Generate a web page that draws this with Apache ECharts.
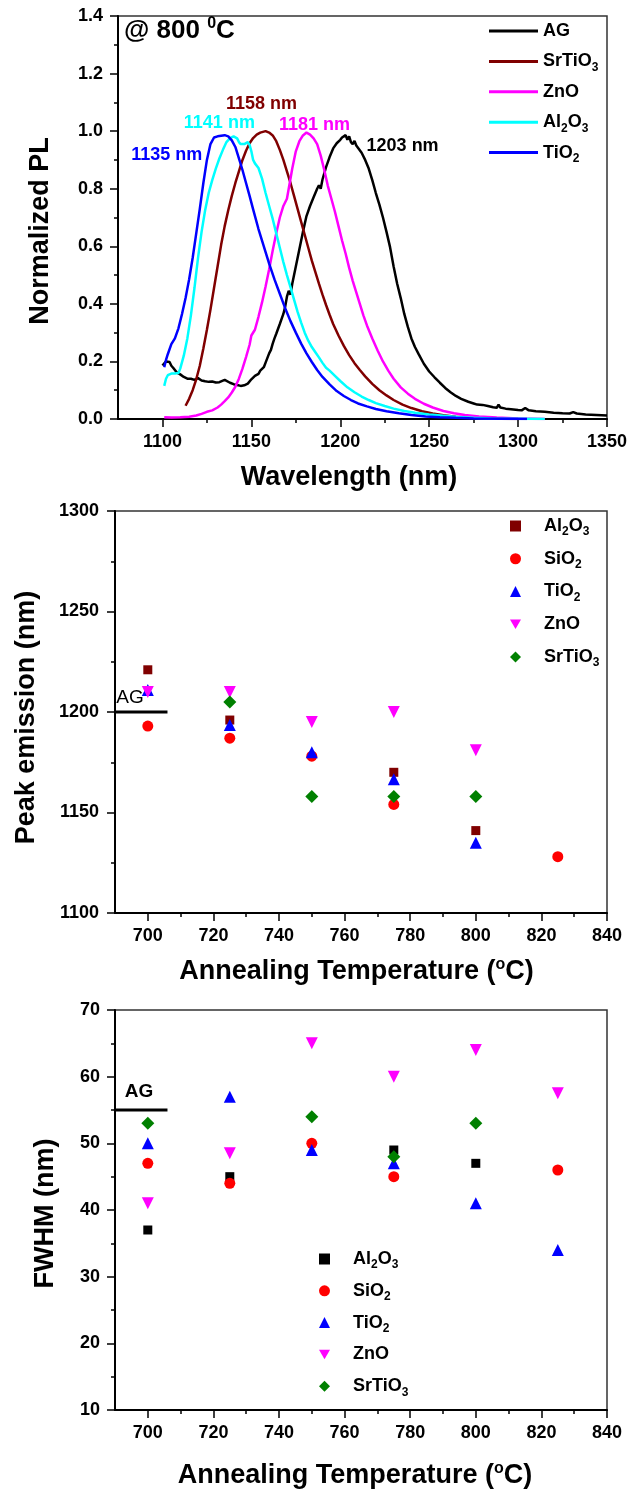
<!DOCTYPE html>
<html>
<head>
<meta charset="utf-8">
<script src="https://cdn.jsdelivr.net/npm/echarts@6/dist/echarts.min.js"></script>
<style>
  html, body { margin: 0; padding: 0; background: #fff; }
  #chart { width: 632px; height: 1492px; }
</style>
</head>
<body>
<div id="chart"></div>
<script>
// ---------- Panel 1: normalized PL spectra after annealing at 800 °C ----------
const plNames = ['AG', 'SrTiO3', 'ZnO', 'Al2O3', 'TiO2'];
const plPeakNm = [1203, 1158, 1181, 1141, 1135];
const wavelengthTicks = [1100, 1150, 1200, 1250, 1300, 1350];
const wavelengthMinorTicks = [1125, 1175, 1225, 1275, 1325];

const plAG = [[1100,0.186],[1101,0.19],[1102,0.2],[1103,0.205],[1104,0.198],[1105,0.185],[1106,0.178],[1107,0.17],[1108,0.162],[1110,0.155],[1112,0.146],[1114,0.14],[1115,0.143],[1116,0.14],[1118,0.136],[1119,0.14],[1120,0.142],[1122,0.134],[1124,0.131],[1126,0.129],[1128,0.13],[1130,0.127],[1132,0.128],[1133,0.134],[1135,0.136],[1136,0.132],[1138,0.126],[1140,0.121],[1142,0.118],[1144,0.115],[1146,0.117],[1148,0.123],[1150,0.138],[1152,0.15],[1154,0.157],[1155,0.168],[1157,0.18],[1158,0.196],[1160,0.228],[1161,0.24],[1162,0.262],[1163,0.28],[1164,0.296],[1166,0.33],[1168,0.365],[1169,0.39],[1170,0.425],[1171,0.445],[1172,0.432],[1173,0.47],[1175,0.53],[1177,0.59],[1179,0.65],[1181,0.705],[1183,0.74],[1185,0.77],[1187,0.8],[1188,0.812],[1189,0.8],[1190,0.832],[1192,0.875],[1194,0.91],[1196,0.94],[1198,0.958],[1200,0.97],[1201,0.978],[1202,0.972],[1203,0.986],[1204,0.97],[1205,0.982],[1206,0.962],[1207,0.955],[1208,0.966],[1209,0.95],[1210,0.945],[1212,0.925],[1214,0.9],[1216,0.87],[1218,0.83],[1220,0.785],[1222,0.745],[1224,0.7],[1226,0.65],[1228,0.597],[1230,0.53],[1232,0.47],[1234,0.42],[1236,0.365],[1238,0.32],[1240,0.28],[1242,0.25],[1244,0.226],[1247,0.192],[1250,0.165],[1253,0.145],[1256,0.126],[1259,0.108],[1262,0.093],[1265,0.08],[1268,0.07],[1272,0.06],[1275,0.054],[1277,0.05],[1278,0.056],[1280,0.049],[1283,0.045],[1286,0.041],[1288,0.039],[1289,0.05],[1290,0.04],[1293,0.036],[1296,0.034],[1300,0.031],[1302,0.03],[1304,0.038],[1306,0.03],[1310,0.027],[1315,0.025],[1320,0.022],[1325,0.02],[1329,0.019],[1331,0.024],[1333,0.019],[1338,0.016],[1344,0.014],[1350,0.012]];

const plSrTiO3 = [[1113,0.046],[1115,0.07],[1117,0.1],[1119,0.138],[1121,0.185],[1123,0.245],[1125,0.31],[1127,0.38],[1129,0.455],[1131,0.53],[1133,0.605],[1135,0.67],[1137,0.725],[1139,0.775],[1141,0.82],[1143,0.86],[1145,0.9],[1147,0.932],[1149,0.958],[1151,0.976],[1153,0.988],[1155,0.995],[1158,1.0],[1160,0.995],[1162,0.985],[1164,0.965],[1166,0.935],[1168,0.9],[1170,0.86],[1172,0.82],[1174,0.775],[1176,0.73],[1178,0.685],[1180,0.64],[1182,0.595],[1184,0.55],[1186,0.51],[1188,0.47],[1190,0.432],[1192,0.396],[1194,0.362],[1196,0.33],[1199,0.29],[1202,0.254],[1205,0.222],[1208,0.194],[1211,0.17],[1214,0.148],[1218,0.122],[1222,0.1],[1226,0.082],[1230,0.066],[1235,0.05],[1240,0.038],[1246,0.027],[1252,0.019],[1258,0.013],[1265,0.008],[1272,0.005],[1280,0.003],[1290,0.001],[1300,0]];

const plZnO = [[1101,0.006],[1105,0.005],[1110,0.006],[1115,0.008],[1119,0.012],[1122,0.018],[1125,0.025],[1128,0.03],[1131,0.04],[1133,0.05],[1135,0.062],[1137,0.075],[1139,0.092],[1141,0.112],[1143,0.14],[1145,0.175],[1147,0.215],[1149,0.258],[1150,0.29],[1152,0.31],[1154,0.355],[1156,0.405],[1158,0.46],[1160,0.52],[1162,0.585],[1164,0.645],[1166,0.7],[1168,0.74],[1170,0.765],[1171,0.8],[1173,0.87],[1175,0.93],[1177,0.965],[1179,0.985],[1181,0.995],[1183,0.988],[1185,0.975],[1187,0.955],[1189,0.915],[1191,0.865],[1193,0.81],[1195,0.765],[1197,0.72],[1199,0.67],[1201,0.62],[1203,0.575],[1205,0.525],[1207,0.48],[1209,0.44],[1211,0.4],[1213,0.36],[1215,0.325],[1218,0.28],[1221,0.238],[1224,0.2],[1227,0.168],[1230,0.14],[1234,0.11],[1238,0.088],[1242,0.07],[1247,0.053],[1252,0.04],[1258,0.028],[1264,0.02],[1270,0.014],[1278,0.009],[1288,0.005],[1300,0.002],[1315,0]];

const plAl2O3 = [[1101,0.115],[1102,0.14],[1103,0.152],[1105,0.158],[1107,0.158],[1109,0.16],[1110,0.175],[1112,0.22],[1114,0.28],[1116,0.36],[1118,0.455],[1120,0.56],[1122,0.65],[1124,0.725],[1126,0.785],[1128,0.83],[1130,0.87],[1132,0.905],[1134,0.935],[1136,0.962],[1138,0.976],[1140,0.982],[1141,0.984],[1142,0.975],[1143,0.962],[1144,0.955],[1146,0.955],[1148,0.962],[1149,0.952],[1150,0.93],[1151,0.9],[1152,0.888],[1154,0.872],[1156,0.835],[1158,0.785],[1160,0.74],[1162,0.695],[1164,0.645],[1166,0.595],[1168,0.545],[1170,0.5],[1172,0.458],[1174,0.415],[1176,0.372],[1178,0.335],[1180,0.3],[1182,0.272],[1184,0.25],[1186,0.232],[1188,0.214],[1190,0.195],[1192,0.178],[1194,0.168],[1197,0.15],[1200,0.132],[1204,0.11],[1208,0.093],[1212,0.078],[1216,0.066],[1220,0.055],[1225,0.045],[1230,0.036],[1236,0.028],[1242,0.022],[1250,0.016],[1258,0.011],[1266,0.007],[1275,0.004],[1285,0.002],[1300,0.001],[1315,0]];

const plTiO2 = [[1101,0.18],[1102,0.205],[1103,0.225],[1105,0.26],[1107,0.28],[1109,0.315],[1111,0.365],[1113,0.42],[1115,0.485],[1117,0.56],[1119,0.645],[1121,0.73],[1123,0.82],[1125,0.9],[1127,0.955],[1129,0.978],[1131,0.982],[1133,0.984],[1135,0.986],[1137,0.982],[1139,0.968],[1141,0.945],[1143,0.905],[1145,0.865],[1147,0.82],[1149,0.775],[1151,0.728],[1154,0.66],[1157,0.6],[1160,0.54],[1163,0.485],[1166,0.435],[1169,0.385],[1172,0.34],[1175,0.3],[1178,0.262],[1181,0.228],[1184,0.198],[1187,0.17],[1190,0.146],[1194,0.12],[1198,0.097],[1202,0.08],[1206,0.066],[1210,0.054],[1215,0.044],[1220,0.035],[1226,0.027],[1233,0.02],[1240,0.014],[1248,0.009],[1256,0.006],[1265,0.004],[1275,0.002],[1290,0.001],[1305,0]];

const plSpectra = [plAG, plSrTiO3, plZnO, plAl2O3, plTiO2];

// ---------- Panels 2 & 3: peak emission and FWHM vs annealing temperature ----------
const annealTemps = [700, 725, 750, 775, 800, 825];
const tempTicks = [700, 720, 740, 760, 780, 800, 820, 840];
const tempMinorTicks = [710, 730, 750, 770, 790, 810, 830];
const coatNames = ['Al2O3', 'SiO2', 'TiO2', 'ZnO', 'SrTiO3'];

const peakAl2O3  = [1221, 1196, null, 1170, 1141, null];
const peakSiO2   = [1193, 1187, 1178, 1154, null, 1128];
const peakTiO2   = [1211, 1193.5, 1180, 1166.5, 1135, null];
const peakZnO    = [1210, 1210, 1195, 1200, 1181, null];
const peakSrTiO3 = [null, 1205, 1158, 1158, 1158, null];

const fwhmAl2O3  = [37, 45, null, 49, 47, null];
const fwhmSiO2   = [47, 44, 50, 45, null, 46];
const fwhmTiO2   = [50, 57, 49, 47, 41, 34];
const fwhmZnO    = [41, 48.5, 65, 60, 64, 57.5];
const fwhmSrTiO3 = [53, null, 54, 48, 53, null];

// As-grown reference levels and the short stretch of temperature they are drawn over
const agPeakEmission = 1200;
const agFwhm = 55;
const agSpan = [690, 706];

// ---------- styling ----------
const FONT = "'Liberation Sans', Arial, sans-serif";
const plColors = ['#000000', '#800000', '#ff00ff', '#00ffff', '#0000ff'];
// label offsets (px) from each spectrum's peak point
const plLabelOffsets = [[57, 11], [-4, -27], [8, -8], [-16, -13], [-58, 20]];
const downTriangle = 'path://M0,0 L10,0 L5,8.66 Z';
const coatSymbols = ['rect', 'circle', 'triangle', downTriangle, 'diamond'];
const coatSizes = [9, 11, 12, 12, 13];
const peakColors = ['#800000', '#ff0000', '#0000ff', '#ff00ff', '#008000'];
const fwhmColors = ['#000000', '#ff0000', '#0000ff', '#ff00ff', '#008000'];
const lineIcon = 'path://M0,0 H49 V3 H0 Z';

function chem(name) {
  return name.replace(/(\d)/g, '{sub|$1}');
}
const legendText = (padLeft) => ({
  color: '#000', fontFamily: FONT, fontWeight: 'bold', fontSize: 18, lineHeight: 24,
  padding: [0, 0, 0, padLeft],
  rich: { sub: { fontFamily: FONT, fontWeight: 'bold', fontSize: 12, lineHeight: 12, verticalAlign: 'bottom', color: '#000' } }
});
const tickLabel = { color: '#000', fontFamily: FONT, fontWeight: 'bold', fontSize: 18 };
const axisNameStyle = (pad) => ({
  color: '#000', fontFamily: FONT, fontWeight: 'bold', fontSize: 27, lineHeight: 30, padding: pad,
  rich: { sup: { fontFamily: FONT, fontWeight: 'bold', fontSize: 16, lineHeight: 15, verticalAlign: 'top', color: '#000' } }
});
const axisLine = { show: true, onZero: false, lineStyle: { color: '#000', width: 2 } };
const gridBox = { show: true, borderColor: '#333', borderWidth: 1.5, backgroundColor: 'transparent' };

const grids = [
  Object.assign({ left: 118, top: 16, width: 489, height: 403 }, gridBox),
  Object.assign({ left: 115, top: 511, width: 492, height: 402 }, gridBox),
  Object.assign({ left: 115, top: 1010, width: 492, height: 401 }, gridBox)
];

function xAxes(gridIndex, min, max, ticks, minor, name, nameGap, namePad) {
  return [
    {
      type: 'value', gridIndex, min, max, position: 'bottom',
      axisLine, splitLine: { show: false },
      axisTick: { show: true, length: 8, customValues: ticks, lineStyle: { color: '#000', width: 1.5 } },
      axisLabel: Object.assign({ margin: 14, customValues: ticks, formatter: v => String(v) }, tickLabel),
      name, nameLocation: 'middle', nameGap, nameTextStyle: axisNameStyle(namePad)
    },
    {
      type: 'value', gridIndex, min, max, position: 'bottom',
      axisLine: { show: false }, splitLine: { show: false },
      axisTick: { show: true, length: 4, customValues: minor, lineStyle: { color: '#000', width: 1.5 } },
      axisLabel: { show: false, customValues: minor }
    }
  ];
}

function yAxis(gridIndex, min, max, interval, name, nameGap, namePad, fmt, margin) {
  return {
    type: 'value', gridIndex, min, max, interval,
    axisLine, splitLine: { show: false },
    axisTick: { show: true, length: 8, lineStyle: { color: '#000', width: 1.5 } },
    minorTick: { show: true, splitNumber: 2, length: 4, lineStyle: { color: '#000', width: 1.5 } },
    axisLabel: Object.assign({ margin, formatter: fmt }, tickLabel),
    name, nameLocation: 'middle', nameGap, nameTextStyle: axisNameStyle(namePad)
  };
}

const series = [];

// PL spectra, peak wavelength labelled on the peak point
plNames.forEach((name, i) => {
  const peak = plPeakNm[i];
  series.push({
    name: 'pl:' + name, type: 'line', xAxisIndex: 0, yAxisIndex: 0,
    symbol: 'circle', symbolSize: 0, showSymbol: true,
    lineStyle: { color: plColors[i], width: 2.5 }, itemStyle: { color: plColors[i] },
    emphasis: { disabled: true },
    data: plSpectra[i].map(p => p[0] === peak ? {
      value: p,
      label: {
        show: true, position: 'inside', offset: plLabelOffsets[i],
        formatter: (d) => d.value[0] + ' nm',
        color: plColors[i], fontFamily: FONT, fontWeight: 'bold', fontSize: 18
      }
    } : p)
  });
});

function scatterSeries(prefix, axisBase, yIndex, values, colors) {
  values.forEach((vals, i) => {
    series.push({
      name: prefix + coatNames[i], type: 'scatter', xAxisIndex: axisBase, yAxisIndex: yIndex,
      symbol: coatSymbols[i], symbolSize: coatSizes[i],
      itemStyle: { color: colors[i], opacity: 1 },
      emphasis: { disabled: true },
      data: annealTemps.map((t, k) => [t, vals[k]]).filter(p => p[1] !== null)
    });
  });
}
scatterSeries('peak:', 2, 1, [peakAl2O3, peakSiO2, peakTiO2, peakZnO, peakSrTiO3], peakColors);
scatterSeries('fwhm:', 4, 2, [fwhmAl2O3, fwhmSiO2, fwhmTiO2, fwhmZnO, fwhmSrTiO3], fwhmColors);

// As-grown reference level with its "AG" tag
function agSeries(axisBase, yIndex, level, offset, weight) {
  series.push({
    name: 'ag' + yIndex, type: 'line', xAxisIndex: axisBase, yAxisIndex: yIndex,
    symbol: 'circle', symbolSize: 0, showSymbol: true, emphasis: { disabled: true },
    lineStyle: { color: '#000', width: 3 }, itemStyle: { color: '#000' },
    data: [
      { value: [agSpan[0], level], label: { show: true, position: 'inside', offset, formatter: 'AG', color: '#000', fontFamily: FONT, fontWeight: weight, fontSize: 19 } },
      [agSpan[1], level]
    ]
  });
}
agSeries(2, 1, agPeakEmission, [15, -14], 'normal');
agSeries(4, 2, agFwhm, [24, -18], 'bold');

const option = {
  animation: false,
  backgroundColor: '#fff',
  title: {
    text: '@ 800 {sup|0}C', left: 124, top: 16, padding: 0,
    textStyle: {
      color: '#000', fontFamily: FONT, fontWeight: 'bold', fontSize: 26, lineHeight: 30,
      rich: { sup: { color: '#000', fontFamily: FONT, fontWeight: 'bold', fontSize: 16, lineHeight: 16, verticalAlign: 'top' } }
    }
  },
  grid: grids,
  xAxis: [
    ...xAxes(0, 1075, 1350, wavelengthTicks, wavelengthMinorTicks, 'Wavelength (nm)', 44, [0, 27, 0, 0]),
    ...xAxes(1, 690, 840, tempTicks, tempMinorTicks, 'Annealing Temperature ({sup|o}C)', 44, [0, 9, 0, 0]),
    ...xAxes(2, 690, 840, tempTicks, tempMinorTicks, 'Annealing Temperature ({sup|o}C)', 51, [0, 12, 0, 0])
  ],
  yAxis: [
    yAxis(0, 0, 1.4, 0.2, 'Normalized PL', 62, [0, 27, 0, 0], v => v.toFixed(1), 15),
    yAxis(1, 1100, 1300, 50, 'Peak emission (nm)', 73, [0, 11, 0, 0], v => String(v), 16),
    yAxis(2, 10, 70, 10, 'FWHM (nm)', 54, [0, 7, 0, 0], v => String(v), 15)
  ],
  legend: [
    {
      data: plNames.map(n => 'pl:' + n), orient: 'vertical', left: 484, top: 14,
      icon: lineIcon, itemWidth: 49, itemHeight: 14, itemGap: 6.4, selectedMode: false,
      formatter: n => chem(n.slice(3)), textStyle: legendText(0)
    },
    {
      data: coatNames.map(n => 'peak:' + n), orient: 'vertical', left: 505, top: 509,
      itemWidth: 11, itemHeight: 11, itemGap: 8.75, selectedMode: false,
      formatter: n => chem(n.slice(5)), textStyle: legendText(18)
    },
    {
      data: coatNames.map(n => 'fwhm:' + n), orient: 'vertical', left: 314, top: 1242,
      itemWidth: 11, itemHeight: 11, itemGap: 7.8, selectedMode: false,
      formatter: n => chem(n.slice(5)), textStyle: legendText(18)
    }
  ],
  series
};

const chart = echarts.init(document.getElementById('chart'), null, { renderer: 'canvas' });
chart.setOption(option);
</script>
</body>
</html>
